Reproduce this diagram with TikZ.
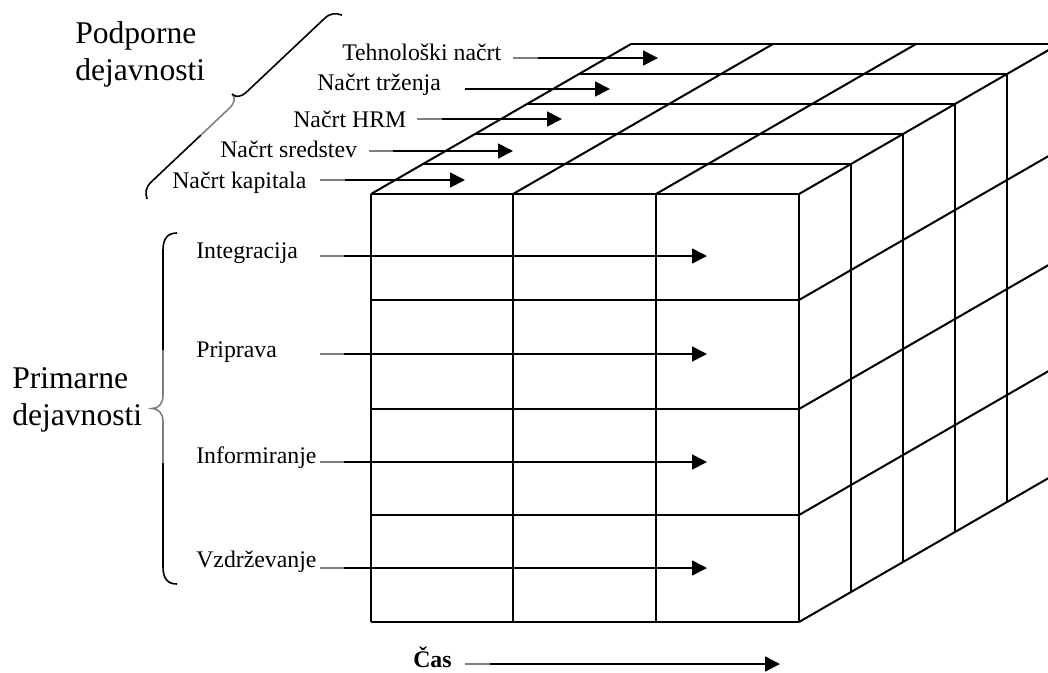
\documentclass[tikz,border=0pt]{standalone}
\usepackage{fontspec}
\setmainfont{Liberation Serif}
\usetikzlibrary{arrows.meta}
\begin{document}
\begin{tikzpicture}[x=0.75pt,y=-0.75pt,
  edge/.style={line width=1.5pt, line join=miter},
  flow/.style={line width=1.3pt, -{Triangle[length=11.25pt,width=11.25pt]}},
  stub/.style={line width=1.3pt, draw=black!50},
  brace/.style={line width=1.2pt},
  faint/.style={brace, draw=black!50},
  small/.style={inner sep=0pt, anchor=base west, font=\fontsize{17.85}{20}\selectfont},
  big/.style={inner sep=0pt, anchor=base west, font=\fontsize{23.7}{28}\selectfont}]
\useasboundingbox (0,0) rectangle (1048,672);
\clip (0,0) rectangle (1048,672);

% front face: 3 columns x 4 rows
\foreach \x in {371,513,656,799} \draw[edge] (\x,194) -- (\x,622);
\foreach \y in {194,300,409,515,622} \draw[edge] (371,\y) -- (799,\y);
% top face: 5 layers in depth
\foreach \k in {1,...,5} \draw[edge] ({371+52*\k},{194-30*\k}) -- ({799+52*\k},{194-30*\k});
\foreach \x in {371,513,656,799} \draw[edge] (\x,194) -- ++(260,-150);
% right face
\foreach \k in {1,...,5} \draw[edge] ({799+52*\k},{194-30*\k}) -- ({799+52*\k},{622-30*\k});
\foreach \y in {300,409,515,622} \draw[edge] (799,\y) -- ++(260,-150);

% support activities
\node[small] (teh) at (342,60) {Tehnološki načrt};
\node[small] (trz) at (317,90) {Načrt trženja};
\node[small] (hrm) at (293,127) {Načrt HRM};
\node[small] (sre) at (220,157) {Načrt sredstev};
\node[small] (kap) at (172,188) {Načrt kapitala};

\coordinate (teh-a) at (513,58); \coordinate (teh-b) at (538,58); \coordinate (teh-c) at (658,58);
\coordinate (trz-a) at (465,89); \coordinate (trz-c) at (610,89);
\coordinate (hrm-a) at (417,119); \coordinate (hrm-b) at (442,119); \coordinate (hrm-c) at (562,119);
\coordinate (sre-a) at (369,151); \coordinate (sre-b) at (393,151); \coordinate (sre-c) at (513,151);
\coordinate (kap-a) at (320,180); \coordinate (kap-b) at (345,180); \coordinate (kap-c) at (465,180);

\draw[stub] (teh-a) -- (teh-b); \draw[flow] (teh-b) -- (teh-c);
\draw[flow] (trz-a) -- (trz-c);
\draw[stub] (hrm-a) -- (hrm-b); \draw[flow] (hrm-b) -- (hrm-c);
\draw[stub] (sre-a) -- (sre-b); \draw[flow] (sre-b) -- (sre-c);
\draw[stub] (kap-a) -- (kap-b); \draw[flow] (kap-b) -- (kap-c);

% primary activities
\node[small] (int) at (196,258) {Integracija};
\node[small] (pri) at (196,357) {Priprava};
\node[small] (inf) at (196,463) {Informiranje};
\node[small] (vzd) at (196,567) {Vzdrževanje};

\foreach \n/\y in {int/256,pri/354,inf/462,vzd/568}{
  \coordinate (\n-a) at (320,\y);
  \coordinate (\n-b) at (344,\y);
  \coordinate (\n-c) at (707,\y);
  \draw[stub] (\n-a) -- (\n-b);
  \draw[flow] (\n-b) -- (\n-c);
}

% time axis
\node[small, font=\fontsize{17.85}{20}\selectfont\bfseries] (cas) at (413,667) {Čas};
\coordinate (cas-a) at (465,664); \coordinate (cas-b) at (490,664); \coordinate (cas-c) at (780,664);
\draw[stub] (cas-a) -- (cas-b); \draw[flow] (cas-b) -- (cas-c);

% group titles
\node[big] (pod1) at (75,43) {Podporne};
\node[big] (pod2) at (75,80) {dejavnosti};
\node[big] (prim1) at (12,388) {Primarne};
\node[big] (prim2) at (12,425) {dejavnosti};

% brace for primary activities
\begin{scope}[shift={(177,584)}, x={(0pt,0.75pt)}, y={(-0.75pt,0pt)}]
  \draw[brace] (0,0) .. controls (0,9) and (5,14) .. (17,14) -- (121,14);
  \draw[faint] (121,14) -- (162.5,14) .. controls (171,14) and (175.5,19) .. (175.5,25)
               .. controls (175.5,19) and (180,14) .. (188.5,14) -- (234,14);
  \draw[brace] (234,14) -- (334,14) .. controls (346,14) and (351,9) .. (351,0);
\end{scope}

% slanted brace for support activities
\begin{scope}[shift={(147,199)}, x={(0.5455pt,0.5147pt)}, y={(-0.5147pt,0.5455pt)}]
  \draw[brace] (0,0) .. controls (3,6) and (7,9.5) .. (15,9.5) -- (83,9.5);
  \draw[faint] (83,9.5) -- (122,9.5) .. controls (130,9.5) and (134,13) .. (134,18);
  \draw[brace] (134,18) .. controls (134,13) and (138,9.5) .. (146,9.5) -- (253,9.5)
               .. controls (261,9.5) and (265,6) .. (268,0);
\end{scope}
\end{tikzpicture}
\end{document}
